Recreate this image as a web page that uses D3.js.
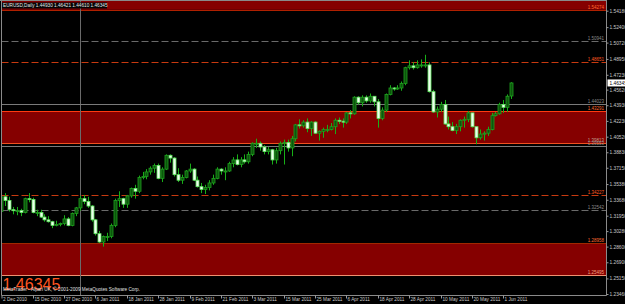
<!DOCTYPE html>
<html lang="en">
<head>
<meta charset="utf-8">
<title>EURUSD Daily</title>
<script src="https://d3js.org/d3.v7.min.js"></script>
<style>
  body { margin: 0; background: #000; }
  svg { display: block; }
  text { font-family: "Liberation Sans", Arial, sans-serif; }
</style>
</head>
<body>
<script>
// trading days shown on the chart
const dates = [
  "2 Dec 2010","3 Dec 2010","6 Dec 2010","7 Dec 2010","8 Dec 2010","9 Dec 2010","10 Dec 2010","13 Dec 2010","14 Dec 2010","15 Dec 2010",
  "16 Dec 2010","17 Dec 2010","20 Dec 2010","21 Dec 2010","22 Dec 2010","23 Dec 2010","24 Dec 2010","27 Dec 2010","28 Dec 2010","29 Dec 2010",
  "30 Dec 2010","31 Dec 2010","3 Jan 2011","4 Jan 2011","5 Jan 2011","6 Jan 2011","7 Jan 2011","10 Jan 2011","11 Jan 2011","12 Jan 2011",
  "13 Jan 2011","14 Jan 2011","17 Jan 2011","18 Jan 2011","19 Jan 2011","20 Jan 2011","21 Jan 2011","24 Jan 2011","25 Jan 2011","26 Jan 2011",
  "27 Jan 2011","28 Jan 2011","31 Jan 2011","1 Feb 2011","2 Feb 2011","3 Feb 2011","4 Feb 2011","7 Feb 2011","8 Feb 2011","9 Feb 2011",
  "10 Feb 2011","11 Feb 2011","14 Feb 2011","15 Feb 2011","16 Feb 2011","17 Feb 2011","18 Feb 2011","21 Feb 2011","22 Feb 2011","23 Feb 2011",
  "24 Feb 2011","25 Feb 2011","28 Feb 2011","1 Mar 2011","2 Mar 2011","3 Mar 2011","4 Mar 2011","7 Mar 2011","8 Mar 2011","9 Mar 2011",
  "10 Mar 2011","11 Mar 2011","14 Mar 2011","15 Mar 2011","16 Mar 2011","17 Mar 2011","18 Mar 2011","21 Mar 2011","22 Mar 2011","23 Mar 2011",
  "24 Mar 2011","25 Mar 2011","28 Mar 2011","29 Mar 2011","30 Mar 2011","31 Mar 2011","1 Apr 2011","4 Apr 2011","5 Apr 2011","6 Apr 2011",
  "7 Apr 2011","8 Apr 2011","11 Apr 2011","12 Apr 2011","13 Apr 2011","14 Apr 2011","15 Apr 2011","18 Apr 2011","19 Apr 2011","20 Apr 2011",
  "21 Apr 2011","22 Apr 2011","25 Apr 2011","26 Apr 2011","27 Apr 2011","28 Apr 2011","29 Apr 2011","2 May 2011","3 May 2011","4 May 2011",
  "5 May 2011","6 May 2011","9 May 2011","10 May 2011","11 May 2011","12 May 2011","13 May 2011","16 May 2011","17 May 2011","18 May 2011",
  "19 May 2011","20 May 2011","23 May 2011","24 May 2011","25 May 2011","26 May 2011","27 May 2011","30 May 2011","31 May 2011","1 Jun 2011",
  "2 Jun 2011","3 Jun 2011"
];

const opens = [
  1.3140,1.3240,1.3400,1.3360,1.3260,1.3250,1.3250,1.3230,1.3380,1.3370,
  1.3230,1.3230,1.3180,1.3150,1.3130,1.3090,1.3100,1.3110,1.3160,1.3090,
  1.3220,1.3280,1.3380,1.3350,1.3300,1.3150,1.3000,1.2910,1.2970,1.2970,
  1.3090,1.3360,1.3380,1.3320,1.3410,1.3490,1.3460,1.3610,1.3620,1.3670,
  1.3710,1.3740,1.3600,1.3700,1.3850,1.3820,1.3640,1.3580,1.3610,1.3680,
  1.3700,1.3580,1.3510,1.3480,1.3500,1.3550,1.3600,1.3700,1.3680,1.3680,
  1.3760,1.3800,1.3750,1.3800,1.3780,1.3860,1.3980,1.3980,1.3940,1.3890,
  1.3910,1.3800,1.3900,1.3980,1.3990,1.3930,1.4030,1.4180,1.4170,1.4210,
  1.4140,1.4210,1.4090,1.4110,1.4130,1.4130,1.4160,1.4230,1.4220,1.4210,
  1.4310,1.4300,1.4480,1.4420,1.4480,1.4440,1.4490,1.4430,1.4250,1.4340,
  1.4510,1.4580,1.4570,1.4580,1.4630,1.4800,1.4820,1.4800,1.4830,1.4830,
  1.4830,1.4540,1.4320,1.4350,1.4400,1.4190,1.4160,1.4120,1.4160,1.4230,
  1.4240,1.4310,1.4160,1.4040,1.4080,1.4090,1.4130,1.4280,1.4300,1.4400,
  1.4370,1.44930
];
const highs = [
  1.3270,1.3410,1.3440,1.3400,1.3290,1.3290,1.3270,1.3390,1.3440,1.3390,
  1.3260,1.3260,1.3210,1.3190,1.3140,1.3140,1.3120,1.3200,1.3180,1.3230,
  1.3290,1.3410,1.3420,1.3400,1.3310,1.3160,1.3030,1.2980,1.3010,1.3110,
  1.3380,1.3460,1.3390,1.3420,1.3500,1.3530,1.3630,1.3670,1.3700,1.3730,
  1.3760,1.3760,1.3720,1.3860,1.3860,1.3830,1.3710,1.3640,1.3690,1.3760,
  1.3710,1.3620,1.3550,1.3530,1.3580,1.3640,1.3720,1.3710,1.3720,1.3780,
  1.3830,1.3860,1.3830,1.3860,1.3890,1.3990,1.4030,1.4000,1.3960,1.3940,
  1.3920,1.3930,1.4000,1.4020,1.4020,1.4060,1.4190,1.4240,1.4230,1.4250,
  1.4220,1.4220,1.4120,1.4150,1.4180,1.4200,1.4250,1.4260,1.4250,1.4320,
  1.4340,1.4490,1.4490,1.4500,1.4500,1.4520,1.4490,1.4460,1.4370,1.4520,
  1.4610,1.4590,1.4610,1.4650,1.4810,1.4880,1.4860,1.4880,1.4890,1.4940,
  1.4860,1.4560,1.4380,1.4430,1.4450,1.4270,1.4210,1.4190,1.4240,1.4270,
  1.4330,1.4310,1.4160,1.4130,1.4110,1.4160,1.4310,1.4320,1.4420,1.4450,
  1.4510,1.46421
];
const lows = [
  1.3120,1.3190,1.3300,1.3240,1.3210,1.3200,1.3190,1.3220,1.3340,1.3220,
  1.3190,1.3170,1.3130,1.3120,1.3060,1.3080,1.3080,1.3090,1.3080,1.3080,
  1.3190,1.3250,1.3320,1.3280,1.3130,1.2980,1.2900,1.2860,1.2920,1.2950,
  1.3070,1.3290,1.3280,1.3280,1.3390,1.3380,1.3440,1.3590,1.3590,1.3640,
  1.3660,1.3590,1.3560,1.3690,1.3770,1.3620,1.3560,1.3540,1.3600,1.3660,
  1.3570,1.3500,1.3440,1.3430,1.3470,1.3530,1.3590,1.3640,1.3580,1.3670,
  1.3720,1.3740,1.3720,1.3760,1.3760,1.3840,1.3930,1.3900,1.3860,1.3860,
  1.3750,1.3760,1.3860,1.3750,1.3890,1.3840,1.4000,1.4140,1.4150,1.4100,
  1.4060,1.4080,1.4010,1.4040,1.4100,1.4120,1.4080,1.4190,1.4150,1.4190,
  1.4250,1.4290,1.4400,1.4380,1.4420,1.4420,1.4380,1.4150,1.4230,1.4320,
  1.4500,1.4550,1.4560,1.4550,1.4610,1.4780,1.4780,1.4790,1.4800,1.4800,
  1.4530,1.4310,1.4260,1.4320,1.4180,1.4130,1.4110,1.4080,1.4110,1.4150,
  1.4210,1.4150,1.3970,1.4020,1.4010,1.4060,1.4120,1.4270,1.4290,1.4310,
  1.4320,1.44610
];
const closes = [
  1.3240,1.3400,1.3360,1.3260,1.3250,1.3250,1.3230,1.3380,1.3370,1.3230,
  1.3230,1.3180,1.3150,1.3130,1.3090,1.3100,1.3110,1.3160,1.3090,1.3220,
  1.3280,1.3380,1.3350,1.3300,1.3150,1.3000,1.2910,1.2970,1.2970,1.3090,
  1.3360,1.3380,1.3320,1.3410,1.3490,1.3460,1.3610,1.3620,1.3670,1.3710,
  1.3740,1.3600,1.3700,1.3850,1.3820,1.3640,1.3580,1.3610,1.3680,1.3700,
  1.3580,1.3510,1.3480,1.3500,1.3550,1.3600,1.3700,1.3680,1.3680,1.3760,
  1.3800,1.3750,1.3800,1.3780,1.3860,1.3980,1.3980,1.3940,1.3890,1.3910,
  1.3800,1.3900,1.3980,1.3990,1.3930,1.4030,1.4180,1.4170,1.4210,1.4140,
  1.4210,1.4090,1.4110,1.4130,1.4130,1.4160,1.4230,1.4220,1.4210,1.4310,
  1.4300,1.4480,1.4420,1.4480,1.4440,1.4490,1.4430,1.4250,1.4340,1.4510,
  1.4580,1.4570,1.4580,1.4630,1.4800,1.4820,1.4800,1.4830,1.4830,1.4830,
  1.4540,1.4320,1.4350,1.4400,1.4190,1.4160,1.4120,1.4160,1.4230,1.4240,
  1.4310,1.4160,1.4040,1.4080,1.4090,1.4130,1.4280,1.4300,1.4400,1.4370,
  1.4490,1.46345
];

const dateTicks = ["2 Dec 2010","15 Dec 2010","27 Dec 2010","6 Jan 2011","18 Jan 2011","28 Jan 2011","9 Feb 2011",
  "21 Feb 2011","3 Mar 2011","15 Mar 2011","25 Mar 2011","6 Apr 2011","18 Apr 2011","28 Apr 2011","10 May 2011",
  "20 May 2011","1 Jun 2011"];
const priceTicks = [1.54180,1.52400,1.50720,1.48950,1.47230,1.45620,1.43930,1.42230,1.40520,1.38830,
  1.37150,1.35380,1.33680,1.31950,1.30280,1.28600,1.26900,1.25150,1.23460];

// drawn objects: zones, levels
const zones = [[1.55300, 1.54274], [1.43291, 1.39813], [1.28958, 1.25495]];
const redDashLevels = [1.48651, 1.34227];
const greyDashLevels = [1.50941, 1.32542];
const greySolidLevels = [1.44023, 1.39553];
const header = ["EURUSD,Daily", 1.44930, 1.46421, 1.44610, 1.46345];
const bid = 1.46345;

let w = 625, h = 304;
let pLeft = 1.5, pRight = 606.5, pTop = 0.5, pBottom = 295.5;

let svg = d3.select("body").append("svg").attr("width", w).attr("height", h);
svg.append("rect").attr("width", w).attr("height", h).attr("fill", "#000");

let x = d3.scaleLinear().domain([0, dates.length - 1]).range([-2.6, -2.6 + 131 * 3.922]);
let y = d3.scaleLinear().domain([1.54180, 1.23460]).range([10.7, 294]);
let fmt = d3.format(".5f");

svg.append("clipPath").attr("id", "clip")
  .append("rect").attr("x", pLeft).attr("y", pTop).attr("width", pRight - pLeft).attr("height", pBottom - pTop);
let plot = svg.append("g").attr("clip-path", "url(#clip)");

// zones
zones.forEach(function (z) {
  plot.append("rect")
    .attr("x", pLeft).attr("width", pRight - pLeft)
    .attr("y", y(z[0])).attr("height", y(z[1]) - y(z[0]))
    .attr("fill", "#850000");
});
function hline(v, color) {
  return plot.append("line").attr("x1", pLeft).attr("x2", pRight)
    .attr("y1", Math.round(y(v)) + 0.5).attr("y2", Math.round(y(v)) + 0.5)
    .attr("stroke", color);
}
hline(zones[0][1], "#b02000");
hline(zones[1][0], "#ff3a10");
hline(zones[1][1], "#f05020");
hline(zones[2][0], "#a02800");
hline(zones[2][1], "#f09070");

// period separator before first bar of 2011
let sepX = Math.round(x(dates.indexOf("3 Jan 2011"))) - 3.5;
plot.append("line")
  .attr("x1", sepX).attr("x2", sepX)
  .attr("y1", pTop).attr("y2", pBottom)
  .attr("stroke", "#6a6a6a");

greySolidLevels.forEach(function (v) { hline(v, "#7a7a7a"); });
greyDashLevels.forEach(function (v) { hline(v, "#6a6a6a").attr("stroke-dasharray", "7,3"); });
redDashLevels.forEach(function (v) { hline(v, "#c83a10").attr("stroke-dasharray", "7,3"); });

// candles
let bars = d3.range(dates.length);
let candles = plot.selectAll("g.candle").data(bars).enter().append("g").attr("class", "candle");
candles.append("line")
  .attr("x1", function (i) { return Math.round(x(i)) + 0.5; })
  .attr("x2", function (i) { return Math.round(x(i)) + 0.5; })
  .attr("y1", function (i) { return y(highs[i]); })
  .attr("y2", function (i) { return y(lows[i]); })
  .attr("stroke", "#17b017");
candles.append("rect")
  .attr("x", function (i) { return Math.round(x(i)) - 1; })
  .attr("width", 3)
  .attr("y", function (i) { return y(Math.max(opens[i], closes[i])); })
  .attr("height", function (i) { return Math.max(1, Math.abs(y(opens[i]) - y(closes[i]))); })
  .attr("fill", function (i) { return closes[i] >= opens[i] ? "#0c560c" : "#eefdee"; })
  .attr("stroke", function (i) { return closes[i] >= opens[i] ? "#1ea01e" : "#5ee65e"; })
  .attr("stroke-width", 0.8);

// level labels
let lab = svg.append("g").attr("font-size", "4.5px").attr("text-anchor", "end");
function levelLabel(v, color) {
  lab.append("text").attr("x", 604).attr("y", y(v) - 1).attr("fill", color).text(fmt(v));
}
levelLabel(zones[0][1], "#ff6a30");
levelLabel(zones[1][0], "#ff6a30");
levelLabel(zones[1][1], "#c0a090");
levelLabel(zones[2][0], "#ff6a30");
levelLabel(zones[2][1], "#f0a080");
redDashLevels.forEach(function (v) { levelLabel(v, "#ff5a20"); });
greyDashLevels.forEach(function (v) { levelLabel(v, "#8a8a8a"); });
greySolidLevels.forEach(function (v) { levelLabel(v, "#8a8a8a"); });

// frame
svg.append("line").attr("x1", pLeft).attr("x2", pLeft).attr("y1", 0).attr("y2", pBottom).attr("stroke", "#8a8a8a");
svg.append("line").attr("x1", pRight).attr("x2", pRight).attr("y1", 0).attr("y2", pBottom).attr("stroke", "#8a8a8a");
svg.append("line").attr("x1", pLeft).attr("x2", pRight).attr("y1", pBottom).attr("y2", pBottom).attr("stroke", "#8a8a8a");
svg.append("line").attr("x1", 0).attr("x2", pRight).attr("y1", pTop).attr("y2", pTop).attr("stroke", "#8a8a8a");

// price axis
let yAxis = d3.axisRight(y).tickValues(priceTicks).tickSize(2).tickPadding(1).tickFormat(fmt);
let ya = svg.append("g").attr("transform", "translate(" + pRight + ",0)").call(yAxis);
ya.select(".domain").remove();
ya.selectAll("line").attr("stroke", "#9a9a9a");
ya.selectAll("text").attr("fill", "#c8c8c8").attr("font-size", "4.8px");
ya.attr("font-family", null);

// current price box
svg.append("rect").attr("x", pRight + 1).attr("y", y(bid) - 3.5).attr("width", 20).attr("height", 7).attr("fill", "#fff");
svg.append("text").attr("x", pRight + 3).attr("y", y(bid)).attr("dy", "0.35em")
  .attr("font-size", "4.8px").attr("fill", "#000").text(fmt(bid));

// date axis
let dx = svg.append("g").attr("font-size", "4.7px").attr("fill", "#c8c8c8");
dateTicks.forEach(function (d) {
  let xi = Math.max(pLeft + 0.5, Math.round(x(dates.indexOf(d))) + 0.5);
  dx.append("line").attr("x1", xi).attr("x2", xi).attr("y1", pBottom).attr("y2", pBottom + 3).attr("stroke", "#9a9a9a");
  dx.append("text").attr("x", xi + 1).attr("y", pBottom + 5).text(d);
});

// header
let headText = header[0] + "  " + header.slice(1).map(fmt).join(" ");
svg.append("rect").attr("x", 2).attr("y", 2.5).attr("width", 105).attr("height", 6).attr("fill", "#050505");
svg.append("text").attr("x", 3).attr("y", 7.3).attr("font-size", "4.7px").attr("fill", "#e8e8e8").text(headText);

// big bid and copyright
svg.append("text").attr("x", 2.5).attr("y", 290).attr("font-size", "16px").attr("fill", "#ff5520").text(fmt(bid));
svg.append("text").attr("x", 3).attr("y", 291).attr("font-size", "4.7px").attr("fill", "#e0e0e0")
  .text("MetaTrader - Alpari UK, \u00a9 2001-2009 MetaQuotes Software Corp.");
</script>
</body>
</html>
